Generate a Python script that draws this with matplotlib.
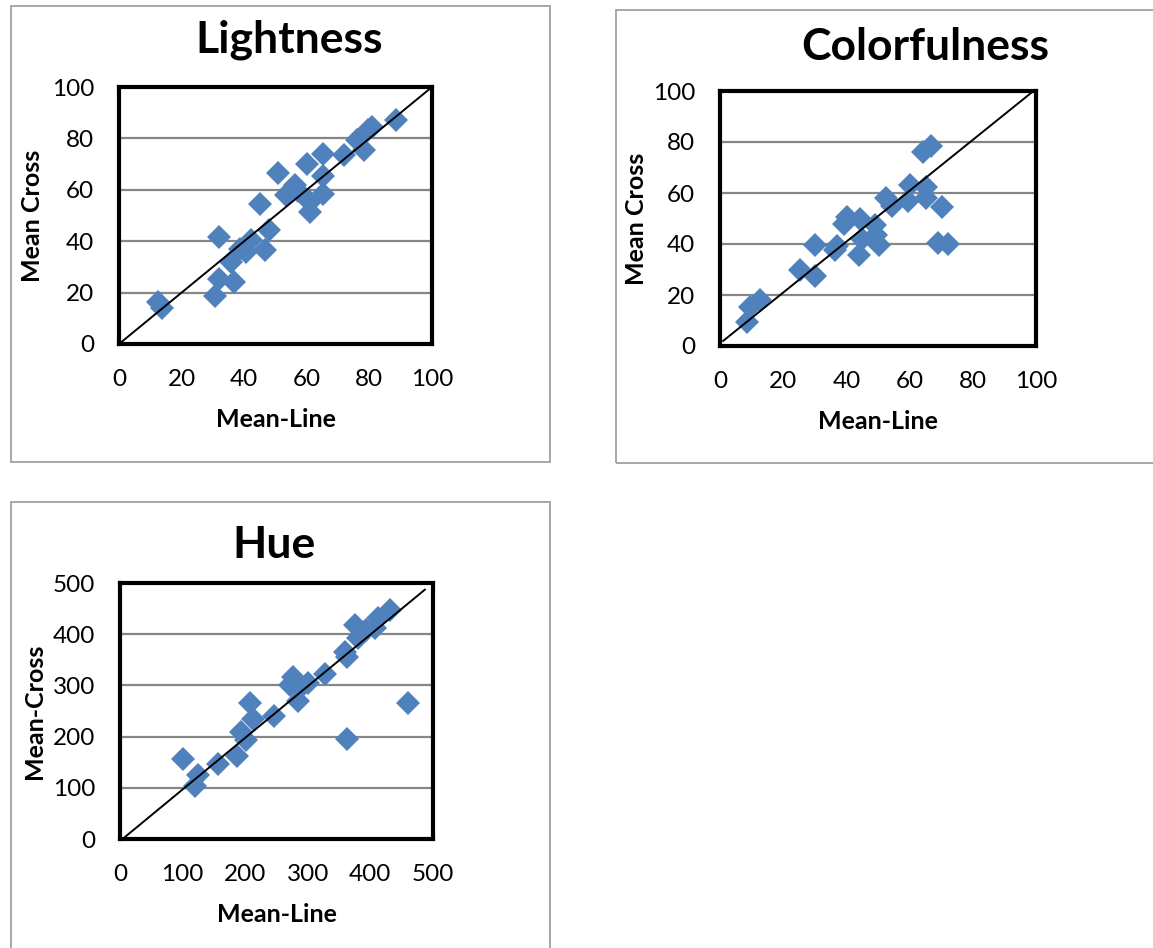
import matplotlib
matplotlib.use("Agg")
import matplotlib.pyplot as plt
from matplotlib.patches import Rectangle

plt.rcParams['font.family'] = ['Lato', 'DejaVu Sans']

# ---- data -------------------------------------------------------------
light_line = [12.6, 13.6, 30.8, 32.1, 32.1, 36.6, 35.8, 38.5, 40.6, 42.2,
              46.5, 47.9, 45.1, 50.8, 53.5, 56.1, 57.2, 61.0, 61.0, 60.1,
              65.2, 65.2, 65.2, 71.9, 75.9, 78.3, 79.7, 80.7, 88.6]
light_cross = [16.2, 13.9, 18.6, 41.6, 25.3, 24.0, 31.8, 37.0, 35.7, 40.3,
               36.4, 44.2, 54.5, 66.5, 57.8, 61.7, 59.7, 55.2, 51.3, 70.1,
               73.8, 65.2, 58.4, 73.4, 79.5, 75.6, 83.1, 84.4, 87.3]

color_line = [8.5, 9.5, 12.7, 25.2, 30.2, 30.2, 36.5, 37.0, 39.1, 40.2,
              43.9, 44.4, 45.0, 48.9, 49.5, 50.3, 52.4, 54.5, 59.6, 60.1,
              65.1, 65.1, 64.2, 66.7, 70.4, 69.0, 72.0]
color_cross = [9.3, 15.4, 18.0, 29.7, 39.8, 27.5, 37.6, 39.1, 48.0, 50.6,
               35.6, 50.0, 42.1, 47.6, 43.4, 39.5, 58.0, 54.9, 56.7, 63.3,
               62.3, 58.0, 76.0, 78.6, 54.5, 40.2, 39.9]

hue_line = [100, 120, 125, 157, 187, 194, 202, 207, 212, 246,
            271, 276, 285, 287, 301, 279, 327, 359, 363, 362,
            375, 380, 393, 407, 412, 431, 460]
hue_cross = [157, 104, 125, 147, 162, 209, 193, 265, 234, 241,
             301, 317, 269, 294, 304, 309, 322, 366, 356, 196,
             418, 392, 408, 412, 431, 447, 265]

# reference y = x segments
light_ref = ([0, 99], [0, 99])
color_ref = ([1, 98.5], [2, 99.3])
hue_ref = ([8, 487], [4, 487])

lh_ticks = [0, 20, 40, 60, 80, 100]
hue_ticks = [0, 100, 200, 300, 400, 500]

W, H = 1153, 948
fig = plt.figure(figsize=(W / 100, H / 100), dpi=100)

MARKER = '#4F81BD'
GRID = '#868686'
FRAME = '#A0A0A0'


def px_rect(x0, y0, x1, y1):
    return [x0 / W, 1 - y1 / H, (x1 - x0) / W, (y1 - y0) / H]


def frame(x0, y0, x1, y1):
    fig.patches.append(Rectangle((x0 / W, 1 - y1 / H), (x1 - x0) / W, (y1 - y0) / H,
                                 transform=fig.transFigure, fill=False,
                                 edgecolor=FRAME, linewidth=1.3, zorder=0))


def panel(box, xs, ys, ref, ticks, title, title_xy, ylabel, ylabel_x, xlabel_y):
    x0, y0, x1, y1 = box
    ax = fig.add_axes(px_rect(x0, y0, x1, y1))
    lim = (ticks[0], ticks[-1])
    ax.set_xlim(*lim)
    ax.set_ylim(*lim)
    ax.set_xticks(ticks)
    ax.set_yticks(ticks)
    ax.yaxis.grid(True, color=GRID, linewidth=1.6)
    ax.set_axisbelow(True)
    ax.tick_params(length=0, labelsize=17.5)
    ax.tick_params(axis='x', pad=18)
    ax.tick_params(axis='y', pad=18)
    for s in ax.spines.values():
        s.set_linewidth(3)
        s.set_color('black')
    ax.plot(xs, ys, linestyle='none', marker='D', markersize=12,
            markerfacecolor=MARKER, markeredgewidth=0, zorder=3)
    ax.plot(ref[0], ref[1], color='black', linewidth=1.4, zorder=4)
    fig.text(title_xy[0] / W, 1 - title_xy[1] / H, title, ha='center',
             va='baseline', fontsize=32, fontweight='bold')
    fig.text((x0 + x1) / 2 / W, 1 - xlabel_y / H, 'Mean-Line', ha='center',
             va='baseline', fontsize=18, fontweight='bold')
    fig.text(ylabel_x / W, 1 - (y0 + y1) / 2 / H, ylabel, ha='center',
             va='center', rotation=90, fontsize=18, fontweight='bold')
    return ax


frame(11, 6, 550, 462)
frame(616, 10, 1170, 463)
frame(11, 502, 550, 960)

panel((119, 87, 432, 344), light_line, light_cross, light_ref, lh_ticks,
      'Lightness', (289, 53), 'Mean Cross', 33, 427)
panel((720, 91, 1036, 346), color_line, color_cross, color_ref, lh_ticks,
      'Colorfulness', (925, 60), 'Mean Cross', 636, 429)
panel((120, 583, 433, 839), hue_line, hue_cross, hue_ref, hue_ticks,
      'Hue', (274, 558), 'Mean-Cross', 34, 922)

fig.savefig('out.png', dpi=100, facecolor='white')
